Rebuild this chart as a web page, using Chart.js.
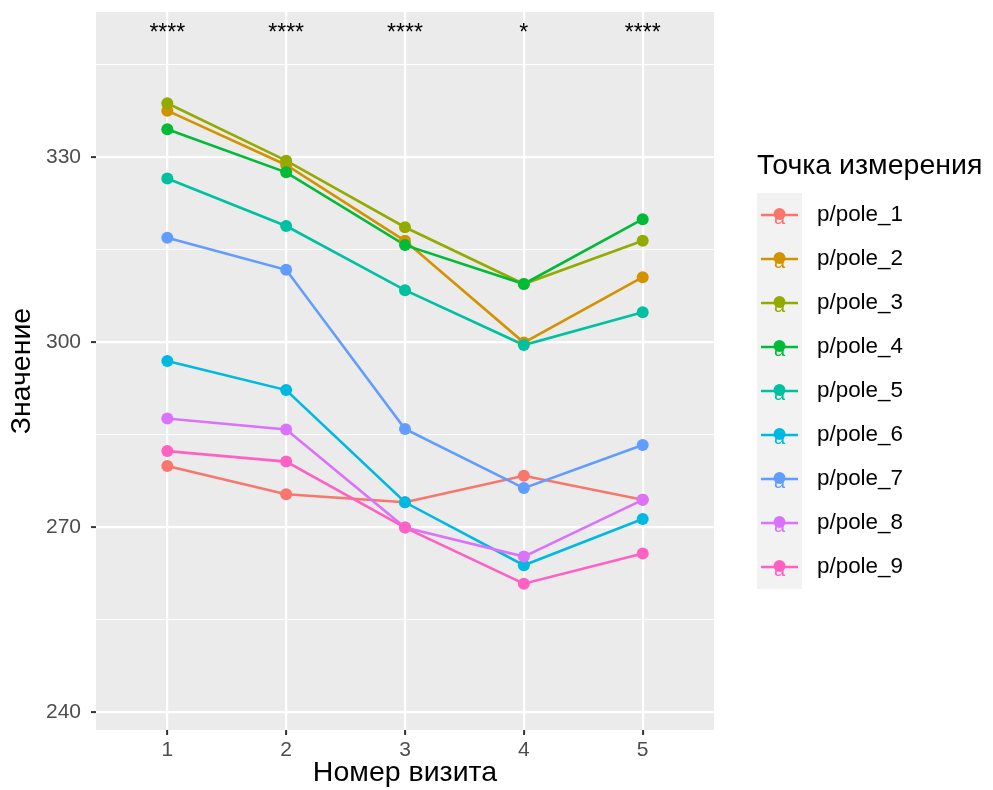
<!DOCTYPE html>
<html>
<head>
<meta charset="utf-8">
<script src="https://cdn.jsdelivr.net/npm/chart.js@4"></script>
<style>
  html, body { margin: 0; padding: 0; background: #fff; }
</style>
</head>
<body>
<canvas id="chart" width="993" height="790"></canvas>
<script>
/**
 * Значения по визитам для каждой точки измерения
 */
const visits = [1, 2, 3, 4, 5];
const poleNames = ["p/pole_1", "p/pole_2", "p/pole_3", "p/pole_4", "p/pole_5", "p/pole_6", "p/pole_7", "p/pole_8", "p/pole_9"];
const poleColors = ["#F8766D", "#D39200", "#93AA00", "#00BA38", "#00C19F", "#00B9E3", "#619CFF", "#DB72FB", "#FF61C3"];

const pole1 = [279.9, 275.3, 274.0, 278.3, 274.4];
const pole2 = [337.5, 328.7, 316.4, 299.9, 310.5];
const pole3 = [338.7, 329.4, 318.6, 309.4, 316.4];
const pole4 = [334.5, 327.5, 315.7, 309.4, 319.9];
const pole5 = [326.5, 318.8, 308.4, 299.5, 304.8];
const pole6 = [296.9, 292.2, 274.0, 263.8, 271.3];
const pole7 = [316.9, 311.7, 285.9, 276.3, 283.3];
const pole8 = [287.6, 285.8, 269.9, 265.2, 274.4];
const pole9 = [282.3, 280.6, 269.9, 260.8, 265.7];
const poleValues = [pole1, pole2, pole3, pole4, pole5, pole6, pole7, pole8, pole9];

// значимость по визитам
const signifLabels = ["****", "****", "****", "*", "****"];

// шкала Y: основные и дополнительные линии сетки
const yGridValues = [240, 255, 270, 285, 300, 315, 330, 345];
const yMajorTicks = [240, 270, 300, 330];

const FONT = "'Liberation Sans', Arial, Helvetica, sans-serif";

function toPoints(values) {
  return values.map((v, i) => ({ x: visits[i], y: v }));
}

// сначала все линии, затем все точки (как в ggplot)
const lineSets = poleValues.map((vals, i) => ({
  label: poleNames[i],
  data: toPoints(vals),
  borderColor: poleColors[i],
  borderWidth: 2.6,
  pointRadius: 0,
  showLine: true,
  fill: false,
  order: 30 - i,
}));
const pointSets = poleValues.map((vals, i) => ({
  label: poleNames[i] + " pt",
  data: toPoints(vals),
  backgroundColor: poleColors[i],
  borderColor: poleColors[i],
  borderWidth: 0,
  pointRadius: 6,
  showLine: false,
  order: 10 - i,
}));

const panelBg = {
  id: "panelBg",
  beforeDraw(chart) {
    const { ctx, chartArea: a } = chart;
    ctx.save();
    ctx.fillStyle = "#EBEBEB";
    ctx.fillRect(a.left, a.top, a.right - a.left, a.bottom - a.top);
    ctx.restore();
  },
};

const signifText = {
  id: "signifText",
  afterDatasetsDraw(chart) {
    const { ctx } = chart;
    const xs = chart.scales.x;
    ctx.save();
    ctx.fillStyle = "#000";
    ctx.font = "23px " + FONT;
    ctx.textAlign = "center";
    ctx.textBaseline = "middle";
    signifLabels.forEach((s, i) => {
      ctx.fillText(s, xs.getPixelForValue(visits[i]), 34);
    });
    ctx.restore();
  },
};

const ggLegend = {
  id: "ggLegend",
  afterDraw(chart) {
    const { ctx } = chart;
    ctx.save();
    ctx.fillStyle = "#000";
    ctx.font = "28.5px " + FONT;
    ctx.textAlign = "left";
    ctx.textBaseline = "middle";
    ctx.fillText("Точка измерения", 757, 166);

    ctx.fillStyle = "#F2F2F2";
    ctx.fillRect(757, 193, 45, 396);

    poleNames.forEach((name, i) => {
      const cy = 215 + i * 44;
      ctx.strokeStyle = poleColors[i];
      ctx.lineWidth = 2.6;
      ctx.beginPath();
      ctx.moveTo(761, cy);
      ctx.lineTo(798, cy);
      ctx.stroke();
      ctx.fillStyle = poleColors[i];
      ctx.beginPath();
      ctx.arc(779.5, cy - 1, 6, 0, Math.PI * 2);
      ctx.fill();
      ctx.font = "20px " + FONT;
      ctx.textAlign = "center";
      ctx.fillText("a", 779.5, cy + 3);
      ctx.fillStyle = "#000";
      ctx.font = "22.4px " + FONT;
      ctx.textAlign = "left";
      ctx.fillText(name, 817, cy);
    });
    ctx.restore();
  },
};

new Chart(document.getElementById("chart"), {
  type: "scatter",
  data: { datasets: [...lineSets, ...pointSets] },
  options: {
    responsive: false,
    animation: false,
    devicePixelRatio: 1,
    layout: { padding: { top: 12, right: 279, bottom: 0, left: 0 } },
    plugins: {
      legend: { display: false },
      tooltip: { enabled: false },
    },
    scales: {
      x: {
        type: "linear",
        min: 0.4,
        max: 5.6,
        afterBuildTicks: (scale) => {
          scale.ticks = visits.map((v) => ({ value: v }));
        },
        afterFit: (scale) => {
          scale.height = 60;
          scale.paddingLeft = 0;
          scale.paddingRight = 0;
        },
        border: { display: false },
        grid: {
          color: "#FFFFFF",
          lineWidth: 2.2,
          tickLength: 5,
          tickColor: "#333333",
          tickWidth: 2,
        },
        ticks: {
          color: "#4D4D4D",
          font: { size: 21, family: FONT },
          padding: 3,
          maxRotation: 0,
          callback: (v) => String(v),
        },
        title: {
          display: true,
          text: "Номер визита",
          color: "#000",
          font: { size: 28.5, family: FONT },
          padding: { top: 0, bottom: 0 },
        },
      },
      y: {
        type: "linear",
        min: 237.08,
        max: 353.5,
        afterBuildTicks: (scale) => {
          scale.ticks = yGridValues.map((v) => ({ value: v }));
        },
        afterFit: (scale) => {
          scale.width = 96;
          scale.paddingTop = 0;
          scale.paddingBottom = 0;
        },
        border: { display: false },
        grid: {
          color: "#FFFFFF",
          lineWidth: (c) => (yMajorTicks.includes(c.tick && c.tick.value) ? 2.2 : 1.1),
          tickLength: 5,
          tickColor: (c) => (yMajorTicks.includes(c.tick && c.tick.value) ? "#333333" : "rgba(0,0,0,0)"),
          tickWidth: 2,
        },
        ticks: {
          color: "#4D4D4D",
          font: { size: 21, family: FONT },
          padding: 10,
          callback: (v) => (yMajorTicks.includes(v) ? String(v) : ""),
        },
        title: {
          display: true,
          text: "Значение",
          color: "#000",
          font: { size: 28.5, family: FONT },
          padding: { top: 5, bottom: 0 },
        },
      },
    },
  },
  plugins: [panelBg, signifText, ggLegend],
});
</script>
</body>
</html>
